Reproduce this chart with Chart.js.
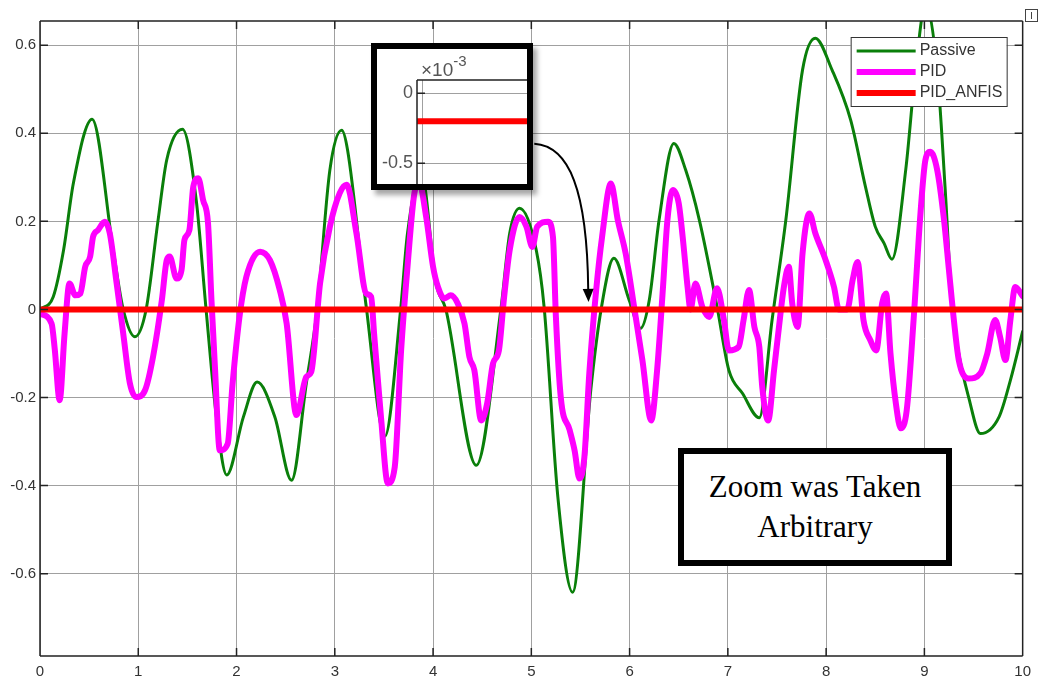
<!DOCTYPE html>
<html>
<head>
<meta charset="utf-8">
<title>Suspension response</title>
<script src="https://cdn.jsdelivr.net/npm/chart.js@4.4.0/dist/chart.umd.min.js"></script>
<style>
  body { margin: 0; background: #fff; }
  #wrap { position: relative; width: 1038px; height: 686px; overflow: hidden; }
  #main { position: absolute; left: 0; top: 0; }
  #inset {
    position: absolute; left: 371px; top: 43px; width: 150px; height: 135px;
    border: 6px solid #000; background: #fff; overflow: hidden;
    box-shadow: 4px 5px 5px rgba(0, 0, 0, 0.35);
  }
  #inset canvas { position: absolute; left: 0; top: 0; }
  #exponent {
    position: absolute; left: 44px; top: 5px; font: 19px "Liberation Sans", Arial, sans-serif;
    color: #555; line-height: 19px; white-space: nowrap;
  }
  #exponent sup { font-size: 15px; position: relative; top: -3px; }
  #note {
    position: absolute; left: 678px; top: 448px; width: 262px; height: 106px;
    border: 6px solid #000; background: #fff; display: flex; align-items: center;
    justify-content: center; text-align: center; font: 31px "Liberation Serif", "Times New Roman", serif;
    line-height: 40px; color: #000;
  }
  #corner {
    position: absolute; left: 1025px; top: 9px; width: 11px; height: 11px;
    border: 1px solid #444; background: #fff;
  }
  #corner::after {
    content: ""; position: absolute; left: 5px; top: 2px; width: 1px; height: 7px; background: #444;
  }
</style>
</head>
<body>
<div id="wrap">
  <canvas id="main" width="1038" height="686"></canvas>
  <div id="inset">
    <canvas id="zoomed" width="150" height="135"></canvas>
    <div id="exponent">×10<sup>-3</sup></div>
  </div>
  <div id="note">Zoom was Taken<br>Arbitrary</div>
  <div id="corner"></div>
</div>
<script>
// axis ticks
const xTicks = [0, 1, 2, 3, 4, 5, 6, 7, 8, 9, 10];
const yTicks = [-0.6, -0.4, -0.2, 0, 0.2, 0.4, 0.6];
const yTickLabels = ['-0.6', '-0.4', '-0.2', '0', '0.2', '0.4', '0.6'];
const insetTicks = [-0.0005, 0];
const insetTickLabels = ['-0.5', '0'];

const seriesNames = ['Passive', 'PID', 'PID_ANFIS'];

// Passive suspension
const passiveT = [0, 0.135, 0.24, 0.34, 0.53, 0.745, 0.847, 0.965, 1.08, 1.20,
  1.29, 1.45, 1.59, 1.69, 1.795, 1.90, 2.07, 2.21, 2.39, 2.56, 2.71, 2.82, 2.95,
  3.07, 3.13, 3.32, 3.51, 3.67, 3.74, 3.88, 4.03, 4.13, 4.44,
  4.69, 4.78, 4.88, 5.05, 5.13, 5.27, 5.42, 5.605, 5.71, 5.84,
  5.996, 6.11, 6.2, 6.30, 6.45, 6.57, 6.71, 6.89, 7.01, 7.15,
  7.32, 7.45, 7.59, 7.76, 7.89, 8.06, 8.25, 8.40, 8.50, 8.59,
  8.67, 8.81, 8.91, 9.01, 9.13, 9.21, 9.28, 9.35, 9.45, 9.57,
  9.76, 9.875, 10];
const passiveY = [0, 0.029, 0.135, 0.287, 0.432, 0.135, 0, -0.062, 0, 0.2,
  0.34, 0.409, 0.248, 0, -0.244, -0.376, -0.244, -0.165, -0.244, -0.388, -0.168, 0, 0.317,
  0.407, 0.362, 0.006, -0.288, 0, 0.173, 0.31, 0.059, 0, -0.354,
  0, 0.173, 0.23, 0.135, 0.006, -0.426, -0.642, -0.183, 0, 0.116,
  0.021, -0.043, 0.021, 0.203, 0.377, 0.317, 0.203, 0.006, -0.138, -0.191,
  -0.246, -0.024, 0.203, 0.544, 0.616, 0.544, 0.43, 0.279, 0.188, 0.15,
  0.114, 0.317, 0.544, 0.69, 0.544, 0.279, 0.014, -0.1, -0.199, -0.282,
  -0.244, -0.161, -0.05];

// PID controller
const pidT = [0, 0.118, 0.15, 0.20, 0.25, 0.30, 0.36, 0.41, 0.46, 0.51,
  0.54, 0.59, 0.66, 0.71, 0.78, 0.847, 0.915, 0.98, 1.07, 1.15,
  1.24, 1.29, 1.32, 1.39, 1.44, 1.47, 1.52, 1.56, 1.61, 1.66,
  1.71, 1.745, 1.78, 1.83, 1.91, 1.96, 2.03, 2.10, 2.24, 2.34,
  2.44, 2.51, 2.61, 2.71, 2.76, 2.85, 2.95, 3.05, 3.12, 3.22,
  3.32, 3.37, 3.40, 3.47, 3.54, 3.61, 3.675, 3.74, 3.81, 3.86,
  3.93, 4.00, 4.05, 4.115, 4.18, 4.25, 4.32, 4.37, 4.42, 4.49,
  4.55, 4.61, 4.67, 4.72, 4.78, 4.88, 4.95, 5.01, 5.06, 5.17,
  5.22, 5.25, 5.30, 5.39, 5.44, 5.49, 5.54, 5.59, 5.66, 5.72,
  5.81, 5.88, 5.96, 6.05, 6.13, 6.22, 6.28, 6.34, 6.385, 6.44,
  6.50, 6.54, 6.59, 6.62, 6.67, 6.74, 6.81, 6.89, 6.96, 7.01,
  7.11, 7.16, 7.215, 7.27, 7.32, 7.35, 7.41, 7.47, 7.52, 7.57,
  7.62, 7.655, 7.71, 7.76, 7.83, 7.89, 7.995, 8.08, 8.13, 8.215,
  8.27, 8.32, 8.38, 8.45, 8.51, 8.57, 8.61, 8.655, 8.71, 8.76,
  8.82, 8.89, 8.96, 9.01, 9.06, 9.13, 9.20, 9.25, 9.30, 9.35,
  9.45, 9.57, 9.64, 9.72, 9.77, 9.825, 9.875, 9.925, 10];
const pidY = [-0.01, -0.032, -0.09, -0.206, -0.055, 0.059, 0.032, 0.036, 0.097, 0.12,
  0.165, 0.18, 0.199, 0.173, 0.059, -0.055, -0.168, -0.199, -0.183, -0.108,
  0.021, 0.112, 0.12, 0.07, 0.089, 0.158, 0.18, 0.279, 0.298, 0.248,
  0.195, 0.021, -0.13, -0.32, -0.305, -0.168, -0.017, 0.074, 0.131, 0.112,
  0.044, -0.032, -0.24, -0.153, -0.142, 0.059, 0.188, 0.264, 0.283, 0.173,
  0.036, 0.029, -0.055, -0.244, -0.395, -0.358, -0.093, 0.097, 0.264, 0.286,
  0.21, 0.097, 0.051, 0.025, 0.032, 0.014, -0.032, -0.108, -0.138, -0.252,
  -0.214, -0.123, -0.093, 0.021, 0.135, 0.21, 0.188, 0.142, 0.188, 0.199,
  0.165, -0.017, -0.2, -0.274, -0.32, -0.384, -0.335, -0.145, 0.044, 0.165,
  0.286, 0.203, 0.127, 0, -0.115, -0.252, -0.138, 0.051, 0.203, 0.271,
  0.241, 0.165, 0.051, 0, 0.059, 0.006, -0.017, 0.048, -0.024, -0.093,
  -0.085, -0.024, 0.044, -0.04, -0.085, -0.176, -0.252, -0.138, -0.04, 0.051,
  0.097, 0.014, -0.04, 0.127, 0.218, 0.173, 0.112, 0.051, 0, 0,
  0.067, 0.108, -0.024, -0.07, -0.093, 0.014, 0.036, -0.1, -0.214, -0.27,
  -0.229, -0.024, 0.218, 0.339, 0.358, 0.317, 0.203, 0.089, -0.024, -0.115,
  -0.157, -0.145, -0.1, -0.024, -0.062, -0.115, -0.024, 0.051, 0.03];

// PID tuned by ANFIS (stays near -0.2e-3)
const anfisT = [0, 2.5, 5, 7.5, 10];
const anfisY = [-0.0002, -0.0002, -0.0002, -0.0002, -0.0002];

function pairs(t, y) {
  return t.map((x, i) => ({ x: x, y: y[i] }));
}

// plot frame and inward tick marks, drawn over the lines
const axesBox = {
  id: 'axesBox',
  beforeDatasetsDraw(chart, args, o) {
    // extra vertical guide lines (used by the small zoom view)
    if (!o.xGuides || !o.xGuides.length) return;
    const { ctx, chartArea: a, scales } = chart;
    ctx.save();
    ctx.strokeStyle = '#a0a0a0';
    ctx.lineWidth = 1;
    ctx.beginPath();
    o.xGuides.forEach(v => {
      const px = Math.round(scales.x.getPixelForValue(v)) + 0.5;
      ctx.moveTo(px, a.top);
      ctx.lineTo(px, a.bottom);
    });
    ctx.stroke();
    ctx.restore();
  },
  afterDatasetsDraw(chart, args, o) {
    const { ctx, chartArea: a, scales } = chart;
    const len = o.tickLength;
    ctx.save();
    ctx.strokeStyle = o.color;
    ctx.lineWidth = o.lineWidth;
    ctx.beginPath();
    if (o.sides.includes('top')) { ctx.moveTo(a.left, a.top); ctx.lineTo(a.right, a.top); }
    if (o.sides.includes('bottom')) { ctx.moveTo(a.left, a.bottom); ctx.lineTo(a.right, a.bottom); }
    if (o.sides.includes('left')) { ctx.moveTo(a.left, a.top); ctx.lineTo(a.left, a.bottom); }
    if (o.sides.includes('right')) { ctx.moveTo(a.right, a.top); ctx.lineTo(a.right, a.bottom); }
    if (o.xTickSides.length) {
      scales.x.ticks.forEach(t => {
        const px = scales.x.getPixelForValue(t.value);
        if (o.xTickSides.includes('bottom')) { ctx.moveTo(px, a.bottom); ctx.lineTo(px, a.bottom - len); }
        if (o.xTickSides.includes('top')) { ctx.moveTo(px, a.top); ctx.lineTo(px, a.top + len); }
      });
    }
    scales.y.ticks.forEach(t => {
      const py = scales.y.getPixelForValue(t.value);
      if (o.yTickSides.includes('left')) { ctx.moveTo(a.left, py); ctx.lineTo(a.left + len, py); }
      if (o.yTickSides.includes('right')) { ctx.moveTo(a.right, py); ctx.lineTo(a.right - len, py); }
    });
    ctx.stroke();
    ctx.restore();
  }
};

// boxed legend inside the top right corner of the plot
const boxLegend = {
  id: 'boxLegend',
  afterDraw(chart, args, o) {
    const { ctx, chartArea: a } = chart;
    const x = a.right - o.right - o.width;
    const y = a.top + o.top;
    ctx.save();
    ctx.fillStyle = '#fff';
    ctx.fillRect(x, y, o.width, o.height);
    ctx.strokeStyle = '#333';
    ctx.lineWidth = 1;
    ctx.strokeRect(x + 0.5, y + 0.5, o.width, o.height);
    ctx.font = o.font;
    ctx.textBaseline = 'middle';
    chart.data.datasets.forEach((ds, i) => {
      const ry = y + o.firstRow + i * o.rowGap;
      ctx.strokeStyle = ds.borderColor;
      ctx.lineWidth = ds.borderWidth;
      ctx.beginPath();
      ctx.moveTo(x + 6, ry);
      ctx.lineTo(x + 65, ry);
      ctx.stroke();
      ctx.fillStyle = '#333';
      ctx.fillText(ds.label, x + 69, ry);
    });
    ctx.restore();
  }
};

// curved arrow from the zoom box down to the zero line (data units)
const arrowPath = [[5.03, 0.376], [5.386, 0.371], [5.569, 0.271], [5.579, 0.044]];
const arrowTip = [5.582, 0.017];

const arrowNote = {
  id: 'arrowNote',
  afterDraw(chart) {
    const { ctx, scales } = chart;
    const p = arrowPath.map(q => [scales.x.getPixelForValue(q[0]), scales.y.getPixelForValue(q[1])]);
    const tip = [scales.x.getPixelForValue(arrowTip[0]), scales.y.getPixelForValue(arrowTip[1])];
    ctx.save();
    ctx.strokeStyle = '#000';
    ctx.fillStyle = '#000';
    ctx.lineWidth = 2;
    ctx.beginPath();
    ctx.moveTo(p[0][0], p[0][1]);
    ctx.bezierCurveTo(p[1][0], p[1][1], p[2][0], p[2][1], p[3][0], p[3][1]);
    ctx.stroke();
    const dx = tip[0] - p[3][0], dy = tip[1] - p[3][1];
    const d = Math.hypot(dx, dy) || 1;
    const ux = dx / d, uy = dy / d;
    const back = 13, half = 5.5;
    ctx.beginPath();
    ctx.moveTo(tip[0], tip[1]);
    ctx.lineTo(tip[0] - ux * back - uy * half, tip[1] - uy * back + ux * half);
    ctx.lineTo(tip[0] - ux * back + uy * half, tip[1] - uy * back - ux * half);
    ctx.closePath();
    ctx.fill();
    ctx.restore();
  }
};

const tickFont = { family: 'Liberation Sans', size: 15 };

new Chart(document.getElementById('main'), {
  type: 'line',
  data: {
    datasets: [
      { label: seriesNames[0], data: pairs(passiveT, passiveY), borderColor: '#0a7f0a', borderWidth: 3, order: 3 },
      { label: seriesNames[1], data: pairs(pidT, pidY), borderColor: '#ff00ff', borderWidth: 6, order: 2 },
      { label: seriesNames[2], data: pairs(anfisT, anfisY), borderColor: '#ff0000', borderWidth: 6, order: 1 }
    ]
  },
  options: {
    responsive: false,
    animation: false,
    elements: {
      point: { radius: 0 },
      line: { cubicInterpolationMode: 'monotone', borderJoinStyle: 'round', borderCapStyle: 'round' }
    },
    layout: { padding: { top: 21, right: 14, left: 0, bottom: 0 } },
    scales: {
      x: {
        type: 'linear', min: 0, max: 10,
        afterBuildTicks: s => { s.ticks = xTicks.map(v => ({ value: v })); },
        afterFit: s => { s.height = 30; },
        grid: { color: '#a0a0a0', drawTicks: false },
        border: { display: false },
        ticks: { padding: 7, color: '#333', font: tickFont, maxRotation: 0, autoSkip: false, callback: v => String(v) }
      },
      y: {
        type: 'linear', min: -0.787, max: 0.655,
        afterBuildTicks: s => { s.ticks = yTicks.map(v => ({ value: v })); },
        afterFit: s => { s.width = 40; },
        grid: { color: '#a0a0a0', drawTicks: false },
        border: { display: false },
        ticks: { padding: 4, color: '#333', font: tickFont, callback: (v, i) => yTickLabels[i] }
      }
    },
    plugins: {
      legend: { display: false },
      tooltip: { enabled: false },
      axesBox: {
        sides: ['top', 'right', 'bottom', 'left'], xTickSides: ['top', 'bottom'], yTickSides: ['left', 'right'],
        color: '#222', lineWidth: 1.5, tickLength: 8
      },
      boxLegend: { right: 16, top: 16, width: 156, height: 69, firstRow: 14, rowGap: 21, font: '16px "Liberation Sans", Arial, sans-serif' }
    }
  },
  plugins: [axesBox, boxLegend, arrowNote]
});

// magnified view of the PID_ANFIS line
new Chart(document.getElementById('zoomed'), {
  type: 'line',
  data: {
    datasets: [
      { label: seriesNames[2], data: pairs(anfisT, anfisY), borderColor: '#ff0000', borderWidth: 6 }
    ]
  },
  options: {
    responsive: false,
    animation: false,
    elements: { point: { radius: 0 } },
    layout: { padding: { top: 31, right: 0, left: 0, bottom: 0 } },
    scales: {
      x: { type: 'linear', min: 0, max: 10, display: false },
      y: {
        type: 'linear', min: -0.000648, max: 0.000095,
        afterBuildTicks: s => { s.ticks = insetTicks.map(v => ({ value: v })); },
        afterFit: s => {
          // the axes run past the box edge, so no room is kept for end labels
          s.width = 40;
          s.paddingTop = 0;
          s.paddingBottom = 0;
        },
        grid: { color: '#a0a0a0', drawTicks: false },
        border: { display: false },
        ticks: { padding: 4, color: '#555', font: { family: 'Liberation Sans', size: 18 }, callback: (v, i) => insetTickLabels[i] }
      }
    },
    plugins: {
      legend: { display: false },
      tooltip: { enabled: false },
      axesBox: {
        sides: ['top', 'left'], xTickSides: [], yTickSides: ['left'], xGuides: [0.45],
        color: '#222', lineWidth: 1.5, tickLength: 8
      }
    }
  },
  plugins: [axesBox]
});
</script>
</body>
</html>
